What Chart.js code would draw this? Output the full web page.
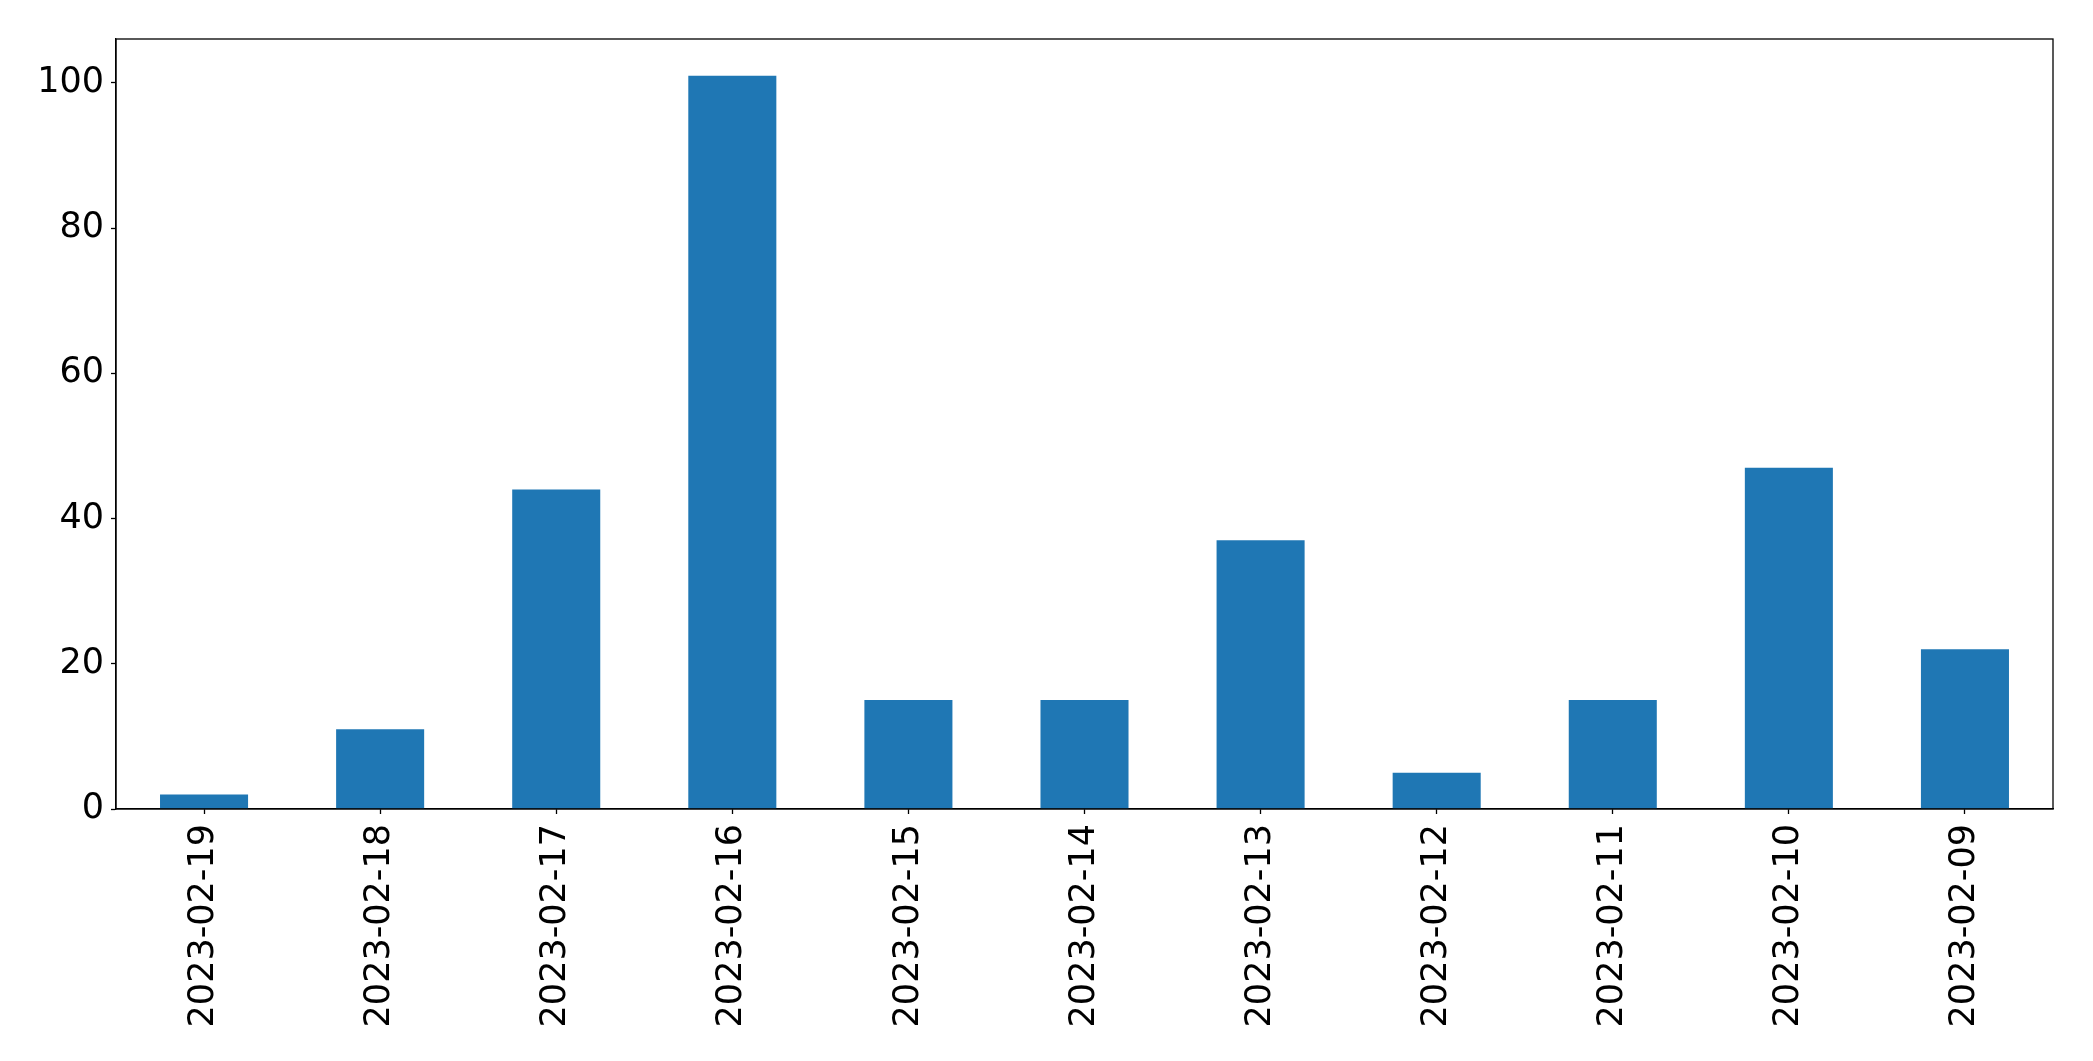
<!DOCTYPE html>
<html>
<head>
<meta charset="utf-8">
<script src="https://cdn.jsdelivr.net/npm/chart.js@4/dist/chart.umd.min.js"></script>
<style>
  html, body { margin: 0; padding: 0; background: #fff; }
  canvas { display: block; }
</style>
</head>
<body>
<canvas id="chart" width="2093" height="1061"></canvas>
<script>
// Data
const dates = [
  "2023-02-19", "2023-02-18", "2023-02-17", "2023-02-16", "2023-02-15", "2023-02-14",
  "2023-02-13", "2023-02-12", "2023-02-11", "2023-02-10", "2023-02-09"
];
const counts = [2, 11, 44, 101, 15, 15, 37, 5, 15, 47, 22];
const yTicks = [0, 20, 40, 60, 80, 100];

const FONT = { family: "'DejaVu Sans', sans-serif", size: 35 };

// box round the plot area (matplotlib style frame)
const frame = {
  id: "frame",
  afterDraw(chart) {
    const a = chart.chartArea, c = chart.ctx;
    c.save();
    c.strokeStyle = "#000";
    c.lineWidth = 1.3;
    c.strokeRect(a.left, a.top, a.right - a.left, a.bottom - a.top);
    c.restore();
  }
};

new Chart(document.getElementById("chart").getContext("2d"), {
  type: "bar",
  data: {
    labels: dates,
    datasets: [{
      data: counts,
      backgroundColor: "#1f77b4",
      borderWidth: 0,
      barPercentage: 0.5,
      categoryPercentage: 1.0,
    }]
  },
  options: {
    responsive: false,
    animation: false,
    layout: { padding: { top: 39, right: 40, left: 0, bottom: 0 } },
    plugins: { legend: { display: false }, tooltip: { enabled: false } },
    scales: {
      x: {
        grid: { offset: false, drawOnChartArea: false, tickLength: 5, tickColor: "#000", tickWidth: 1.3 },
        border: { color: "#000", width: 1.3 },
        ticks: { color: "#000", font: FONT, minRotation: 90, maxRotation: 90, padding: 10, autoSkip: false },
        afterFit: s => { s.height = 1061 - 809; }
      },
      y: {
        min: 0,
        max: 106.05,
        afterBuildTicks: s => { s.ticks = yTicks.map(v => ({ value: v })); },
        grid: { drawOnChartArea: false, tickLength: 5, tickColor: "#000", tickWidth: 1.3 },
        border: { color: "#000", width: 1.3 },
        ticks: { color: "#000", font: FONT, padding: 7 },
        afterFit: s => { s.width = 116; }
      }
    }
  },
  plugins: [frame]
});
</script>
</body>
</html>
